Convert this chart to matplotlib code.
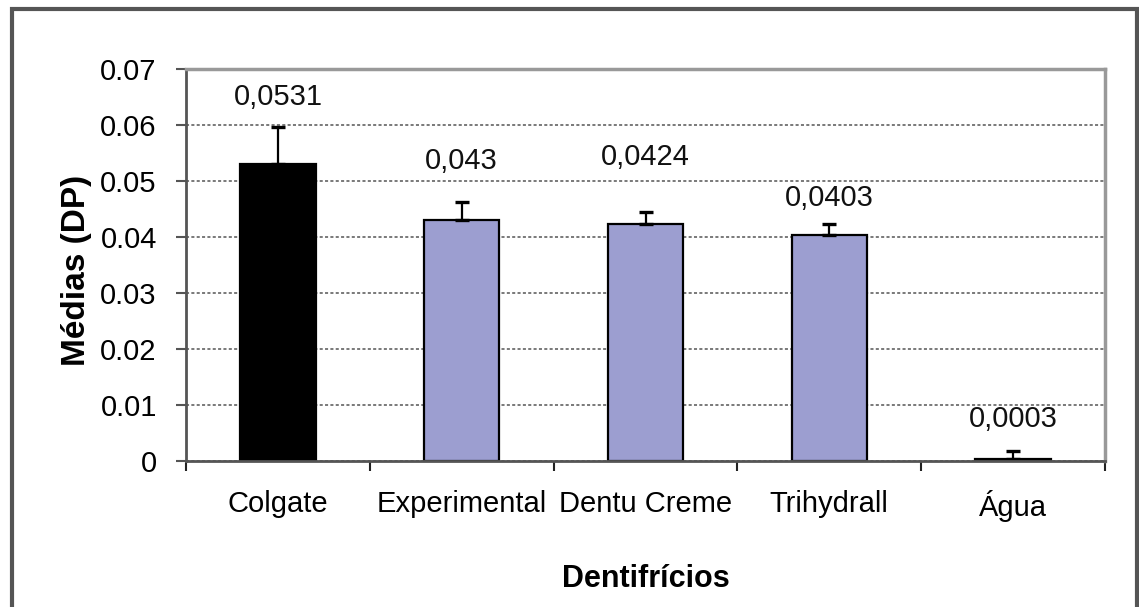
import matplotlib
matplotlib.use("Agg")
import matplotlib.pyplot as plt
from matplotlib.patches import Rectangle
from matplotlib.ticker import FixedLocator, FixedFormatter

categories = ["Colgate", "Experimental", "Dentu Creme", "Trihydrall", "Água"]
means = [0.0531, 0.043, 0.0424, 0.0403, 0.0003]
errors = [0.0066, 0.0033, 0.0020, 0.0021, 0.0015]
value_labels = ["0,0531", "0,043", "0,0424", "0,0403", "0,0003"]
y_ticks = [0, 0.01, 0.02, 0.03, 0.04, 0.05, 0.06, 0.07]
y_tick_labels = ["0", "0.01", "0.02", "0.03", "0.04", "0.05", "0.06", "0.07"]

bar_colors = ["#000000", "#9C9ED0", "#9C9ED0", "#9C9ED0", "#9C9ED0"]
label_offsets_px = [30, 41, 55, 26, 32]

plt.rcParams['font.family'] = ['Liberation Sans', 'DejaVu Sans']

fig = plt.figure(figsize=(11.39, 6.07), dpi=100)
ax = fig.add_axes([186/1139, 1-461/607, (1105-186)/1139, (461-69)/607])

x = list(range(len(categories)))
ax.bar(x, means, width=0.41, color=bar_colors, edgecolor="black", linewidth=1.6, zorder=3)
ax.errorbar(x, means, yerr=[[0]*len(means), errors], fmt="none", ecolor="black",
            elinewidth=1.6, capsize=5, capthick=2.4, zorder=4)

for xi, m, e, lab, off in zip(x, means, errors, value_labels, label_offsets_px):
    ax.annotate(lab, xy=(xi, m + e), xytext=(0, off * 72 / 100), textcoords="offset points",
                ha="center", va="center", fontsize=21, color="#111111")

ax.set_xlim(-0.5, len(categories) - 0.5)
ax.set_ylim(0, 0.07)
ax.yaxis.set_major_locator(FixedLocator(y_ticks))
ax.yaxis.set_major_formatter(FixedFormatter(y_tick_labels))
ax.set_xticks(x)
ax.set_xticklabels(categories)
ax.set_xticks([i - 0.5 for i in range(len(categories) + 1)], minor=True)
ax.tick_params(axis="x", which="major", length=0, pad=21, labelsize=21)
ax.tick_params(axis="x", which="minor", length=7, width=1.5, direction="out", color="#222222")
ax.tick_params(axis="y", which="major", length=7, width=1.5, direction="out", pad=14,
               labelsize=21, color="#555555")

ax.grid(axis="y", linestyle=(0, (2, 1.5)), color="#555555", linewidth=1.1, zorder=0)
for s in ["left", "bottom"]:
    ax.spines[s].set_color("#555555")
    ax.spines[s].set_linewidth(2)
for s in ["top", "right"]:
    ax.spines[s].set_color("#999999")
    ax.spines[s].set_linewidth(2.5)
ax.spines["bottom"].set_zorder(5)

ax.set_ylabel("Médias (DP)", fontsize=24, fontweight="bold")
ax.yaxis.set_label_coords(-0.102, 0.485)
ax.set_xlabel("Dentifrícios", fontsize=22, fontweight="bold", labelpad=30)

frame = Rectangle((12/1139, -0.02), (1137-12)/1139, 1 - 9/607 + 0.02, transform=fig.transFigure,
                  fill=False, edgecolor="#555555", linewidth=3, clip_on=False)
fig.patches.append(frame)

fig.savefig("out.png", dpi=100)
